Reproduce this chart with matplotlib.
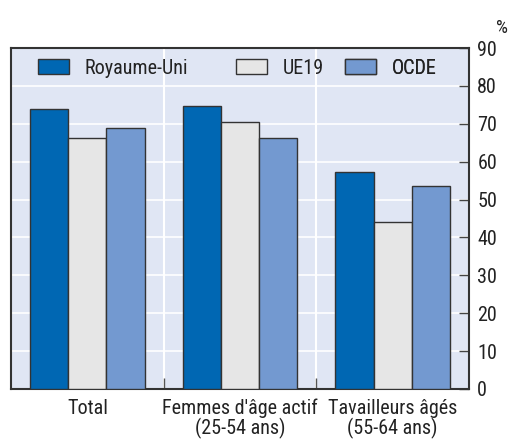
import matplotlib
matplotlib.use("Agg")
import matplotlib.pyplot as plt
import matplotlib.patches as mpatches
import numpy as np
from matplotlib import font_manager

categories = ["Total", "Femmes d'âge actif\n(25-54 ans)", "Tavailleurs âgés\n(55-64 ans)"]
series_names = ["Royaume-Uni", "UE19", "OCDE"]
uk = [74.0, 74.7, 57.3]
ue19 = [66.3, 70.5, 44.1]
ocde = [69.0, 66.3, 53.6]
yticks = [0, 10, 20, 30, 40, 50, 60, 70, 80, 90]

colors = ["#0067B3", "#E6E6E6", "#7399D0"]
bg = "#E0E6F4"
edge = "#333333"

names = {f.name for f in font_manager.fontManager.ttflist}
fam = [f for f in ["Liberation Sans Narrow", "Roboto Condensed", "Liberation Sans", "DejaVu Sans"] if f in names]
plt.rcParams['font.family'] = fam
FS = 14.5

fig = plt.figure(figsize=(5.08, 4.41), dpi=100)
ax = fig.add_axes([11/508, 1-389/441, 458/508, 341/441])
ax.set_facecolor(bg)

x = np.arange(len(categories))
w = 0.25
data = [uk, ue19, ocde]
for i, (vals, c, n) in enumerate(zip(data, colors, series_names)):
    ax.bar(x + (i-1)*w, vals, width=w, color=c, edgecolor=edge, linewidth=1.0, zorder=3, label=n)

ax.set_xlim(-0.5, 2.5)
ax.set_ylim(0, 90)
ax.set_yticks(yticks)
ax.yaxis.tick_right()
ax.tick_params(axis='y', direction='in', length=7, width=1, color='#444444',
               labelsize=FS, labelcolor='#222222', pad=6)
ax.set_xticks(x)
ax.set_xticklabels(categories, linespacing=1.0)
ax.set_xticks([0.5, 1.5], minor=True)
ax.tick_params(axis='x', which='major', length=0, labelsize=FS, labelcolor='#222222', pad=7)
ax.tick_params(axis='x', which='minor', direction='in', length=8, width=1, color='#555555')

ax.grid(axis='y', color='white', linewidth=1.2, zorder=0)
ax.grid(axis='x', which='minor', color='white', linewidth=1.5, zorder=0)
ax.set_axisbelow(True)
for s in ax.spines.values():
    s.set_color('#333333')
    s.set_linewidth(1.5)

# legends, one per entry
xpos = [(38-11)/458, (236-11)/458, (345-11)/458]
for i, (n, c) in enumerate(zip(series_names, colors)):
    h = mpatches.Patch(facecolor=c, edgecolor=edge, linewidth=1.0)
    leg = ax.legend([h], [n], loc='center left', bbox_to_anchor=(xpos[i], (389-68)/341),
                    frameon=False, borderpad=0, borderaxespad=0, handlelength=1.55,
                    handleheight=0.75, handletextpad=0.75, fontsize=FS)
    for t in leg.get_texts():
        t.set_color('#222222')
    ax.add_artist(leg)

fig.text(496/508, 1-28/441, "%", fontsize=FS-1, color='#222222', ha='left', va='center')

fig.savefig("out.png", dpi=100)
